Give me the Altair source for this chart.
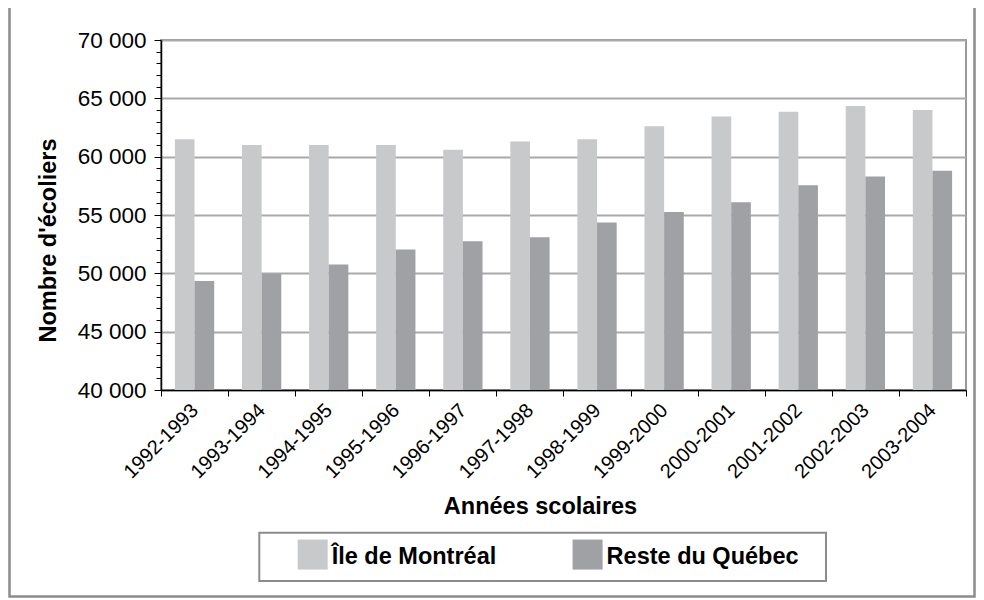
import altair as alt
import pandas as pd

years = ["1992-1993", "1993-1994", "1994-1995", "1995-1996", "1996-1997", "1997-1998",
         "1998-1999", "1999-2000", "2000-2001", "2001-2002", "2002-2003", "2003-2004"]
montreal = [61500, 61000, 61000, 61000, 60600, 61300, 61500, 62600, 63450, 63850, 64350, 64000]
reste = [49350, 49950, 50750, 52050, 52750, 53100, 54350, 55250, 56100, 57550, 58300, 58800]
series = ["Île de Montréal", "Reste du Québec"]
colors = ["#c8c9cb", "#a0a1a4"]
y_ticks = list(range(40000, 70001, 1000))

rows = []
for i, yr in enumerate(years):
    rows.append({"annee": yr, "serie": series[0], "valeur": montreal[i]})
    rows.append({"annee": yr, "serie": series[1], "valeur": reste[i]})
df = pd.DataFrame(rows)

FONT = "Liberation Sans"

x_axis = alt.Axis(
    title="Années scolaires", tickBand="extent", labelAngle=315, labelAlign="right",
    labelBaseline="middle", labelFontSize=20, labelPadding=11, tickSize=6,
    tickColor="black", domainColor="black", domainWidth=1.5, labelColor="black",
    titleColor="black", titleFontSize=23.5, titleFontWeight="bold", titleX=379,
    titleY=123, titleBaseline="alphabetic", titleAlign="center", grid=False,
    labelFont=FONT, titleFont=FONT,
)

y_axis = alt.Axis(
    values=y_ticks,
    labelExpr="datum.value % 5000 === 0 ? replace(format(datum.value, ','), ',', ' ') : ''",
    labelOverlap=False, labelFontSize=22.5, labelPadding=8, labelColor="black",
    labelFont=FONT, tickColor="black", domainColor="black", domainWidth=1.5,
    tickSize=alt.condition("datum.value % 5000 === 0", alt.value(7), alt.value(5)),
    grid=True, gridColor="#a9a9ac", gridWidth=2,
    gridOpacity=alt.condition("datum.value % 5000 === 0", alt.value(1), alt.value(0)),
    title="Nombre d'écoliers", titleFont=FONT, titleFontSize=23.5, titleFontWeight="bold",
    titleColor="black", titleAngle=270, titleX=-106, titleY=200, titleAlign="center",
    titleBaseline="alphabetic",
)

legend = alt.Legend(
    title=None, orient="none", legendX=98.3, legendY=492.7, direction="horizontal",
    symbolType="M0.6,-0.72H1.85V0.53H0.6Z", symbolSize=2304, symbolStrokeWidth=0,
    symbolOpacity=1, labelFont=FONT, labelFontSize=23.5, labelFontWeight="bold",
    labelColor="black", labelOffset=24.4, columnPadding=37.9, padding=0,
    labelLimit=400,
)

bars = alt.Chart(df).mark_bar().encode(
    x=alt.X("annee:N", sort=years, scale=alt.Scale(paddingInner=0, paddingOuter=0), axis=x_axis),
    xOffset=alt.XOffset("serie:N", sort=series, scale=alt.Scale(paddingInner=0, paddingOuter=0.707)),
    y=alt.Y("valeur:Q", scale=alt.Scale(domain=[40000, 70000], nice=False, zero=False), axis=y_axis),
    y2=alt.datum(40000),
    color=alt.Color("serie:N", sort=series, scale=alt.Scale(domain=series, range=colors), legend=legend),
)

frame = alt.Chart(pd.DataFrame({"f": [0]})).mark_rect(
    filled=False, color="#8c8c8c", strokeWidth=2.5, fillOpacity=0
).encode(
    x=alt.value(-151.5), x2=alt.value(813.5), y=alt.value(-60), y2=alt.value(556.5)
)

legend_box = alt.Chart(pd.DataFrame({"f": [0]})).mark_rect(
    filled=False, color="#8c8c8c", strokeWidth=2, fillOpacity=0
).encode(
    x=alt.value(98.3), x2=alt.value(665), y=alt.value(492.7), y2=alt.value(541)
)

chart = alt.layer(frame, legend_box, bars).properties(
    width=805, height=350, autosize="none",
    padding={"left": 153, "top": 32, "right": 10, "bottom": 208},
).configure_view(
    stroke="#9a9a9d", strokeWidth=2
)

chart.save("out.html", embed_options={"renderer": "svg", "actions": False})
